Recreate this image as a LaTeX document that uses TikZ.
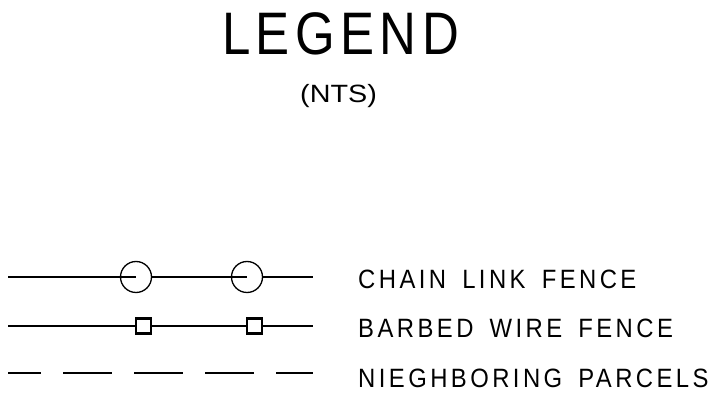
\documentclass[tikz,border=0pt]{standalone}
\usepackage{fontspec}
\setmainfont{Liberation Sans}
\newfontfamily\cadfont[FakeStretch=0.9, LetterSpace=13, WordSpace=1.6]{Liberation Sans}
\newfontfamily\headfont[FakeStretch=0.85, LetterSpace=9]{Liberation Sans}
\newfontfamily\ntsfont[FakeStretch=1.15]{Liberation Sans}
\usepackage{tikz}

\tikzset{
  post/.style={draw, circle, line width=1.3pt, minimum size=31pt, inner sep=0pt},
  barb/.style={draw, rectangle, fill=white, line width=2.4pt, minimum size=15pt, inner sep=0pt},
  label/.style={anchor=base west, inner sep=0pt, font=\cadfont\fontsize{26.5}{30}\selectfont}
}

\begin{document}
\begin{tikzpicture}[x=1pt, y=1pt]
      \useasboundingbox (0,0) rectangle (726,415);
      \draw (222,360) node[anchor=base west, inner sep=0pt, font=\headfont\fontsize{60}{66}\selectfont] (title) {LEGEND};
      \draw (300,312) node[anchor=base west, inner sep=0pt, font=\ntsfont\fontsize{25}{28}\selectfont] (nts) {(NTS)};

      \coordinate (cl0) at (8,138);
      \coordinate (cl3) at (313,138);
      \node[post] (c1) at (136,138) {};
      \node[post] (c2) at (247,138) {};
      \draw[line width=1.2pt] (cl0) -- (c1.center);
      \draw[line width=1.2pt] (c1.east) -- (c2.center);
      \draw[line width=1.2pt] (c2.east) -- (cl3);

      \coordinate (bw0) at (8,89);
      \coordinate (bw3) at (313,89);
      \node[barb] (s1) at (143.5,89) {};
      \node[barb] (s2) at (254.5,89) {};
      \draw[line width=2pt] (bw0) -- (s1) -- (s2) -- (bw3);

      \coordinate (np0) at (8,42);
      \coordinate (np1) at (313,42);
      \draw[line width=1.2pt, dash pattern=on 49pt off 22pt, dash phase=16pt] (np0) -- (np1);

      \draw (358,126) node[label] (chain) {CHAIN LINK FENCE};
      \draw (358,77) node[label] (barbed) {BARBED WIRE FENCE};
      \draw (358,27) node[label] (parcels) {NIEGHBORING PARCELS};
    \end{tikzpicture}
\end{document}
